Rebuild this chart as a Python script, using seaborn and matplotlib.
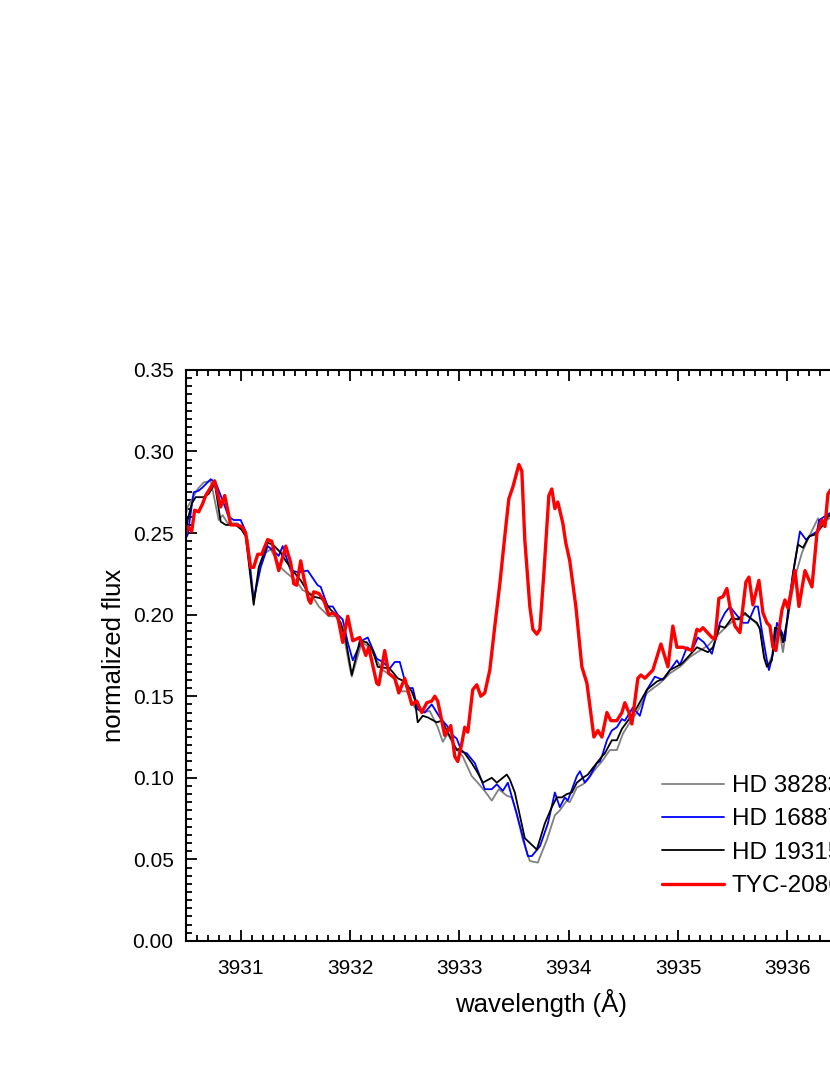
import matplotlib
matplotlib.use('Agg')
import matplotlib.pyplot as plt
import seaborn as sns
from matplotlib.ticker import MultipleLocator, FormatStrFormatter

sns.set_style('ticks')
plt.rcParams['font.family'] = ['Liberation Sans', 'DejaVu Sans']
plt.rcParams.update({'text.color': 'black', 'axes.labelcolor': 'black',
                     'xtick.color': 'black', 'ytick.color': 'black',
                     'axes.edgecolor': 'black'})

# HD 38283 (grey)
gray_wl = [3930.500, 3930.515, 3930.607, 3930.661, 3930.726, 3930.799, 3930.835, 3930.881, 3930.973, 3931.018,
           3931.064, 3931.119, 3931.174, 3931.229, 3931.274, 3931.366, 3931.412, 3931.503, 3931.567, 3931.640,
           3931.714, 3931.805, 3931.869, 3931.933, 3931.990, 3932.016, 3932.107, 3932.180, 3932.244, 3932.299,
           3932.391, 3932.473, 3932.519, 3932.592, 3932.665, 3932.729, 3932.802, 3932.848, 3932.894, 3932.958,
           3933.031, 3933.113, 3933.168, 3933.242, 3933.296, 3933.360, 3933.434, 3933.479, 3933.525, 3933.580,
           3933.644, 3933.717, 3933.800, 3933.873, 3933.918, 3933.982, 3934.009, 3934.074, 3934.129, 3934.175,
           3934.239, 3934.303, 3934.376, 3934.440, 3934.495, 3934.559, 3934.623, 3934.715, 3934.834, 3934.925,
           3935.016, 3935.108, 3935.199, 3935.273, 3935.355, 3935.446, 3935.520, 3935.611, 3935.684, 3935.748,
           3935.794, 3935.822, 3935.867, 3935.904, 3935.931, 3935.959, 3936.005, 3936.069, 3936.133, 3936.206,
           3936.279, 3936.315, 3936.361, 3936.450, 3936.600]
gray_flux = [0.262, 0.266, 0.277, 0.281, 0.282, 0.258, 0.261, 0.256, 0.256, 0.252,
             0.246, 0.209, 0.229, 0.238, 0.240, 0.229, 0.226, 0.221, 0.215, 0.213,
             0.205, 0.199, 0.199, 0.191, 0.170, 0.162, 0.183, 0.180, 0.172, 0.166,
             0.162, 0.153, 0.153, 0.143, 0.140, 0.141, 0.131, 0.122, 0.127, 0.119,
             0.113, 0.101, 0.097, 0.091, 0.086, 0.093, 0.089, 0.088, 0.078, 0.062,
             0.049, 0.048, 0.062, 0.077, 0.080, 0.086, 0.085, 0.094, 0.096, 0.099,
             0.105, 0.110, 0.117, 0.117, 0.127, 0.134, 0.140, 0.152, 0.158, 0.164,
             0.168, 0.174, 0.178, 0.181, 0.187, 0.193, 0.197, 0.200, 0.197, 0.192,
             0.172, 0.169, 0.176, 0.191, 0.188, 0.177, 0.199, 0.223, 0.238, 0.249,
             0.259, 0.254, 0.258, 0.262, 0.270]

# HD 168871 (blue)
blue_wl = [3930.500, 3930.515, 3930.570, 3930.616, 3930.652, 3930.726, 3930.771, 3930.835, 3930.890, 3930.936,
           3931.000, 3931.046, 3931.119, 3931.183, 3931.247, 3931.302, 3931.348, 3931.384, 3931.457, 3931.531,
           3931.613, 3931.704, 3931.732, 3931.796, 3931.842, 3931.887, 3931.933, 3931.979, 3932.025, 3932.107,
           3932.162, 3932.244, 3932.299, 3932.363, 3932.409, 3932.455, 3932.519, 3932.574, 3932.619, 3932.683,
           3932.747, 3932.821, 3932.885, 3932.940, 3932.976, 3933.022, 3933.068, 3933.141, 3933.205, 3933.232,
           3933.296, 3933.342, 3933.397, 3933.443, 3933.507, 3933.571, 3933.626, 3933.662, 3933.736, 3933.809,
           3933.873, 3933.918, 3933.964, 3933.991, 3934.074, 3934.102, 3934.147, 3934.193, 3934.257, 3934.285,
           3934.312, 3934.349, 3934.394, 3934.440, 3934.486, 3934.513, 3934.586, 3934.650, 3934.715, 3934.788,
           3934.861, 3934.925, 3934.989, 3935.016, 3935.081, 3935.126, 3935.181, 3935.236, 3935.309, 3935.382,
           3935.428, 3935.474, 3935.520, 3935.593, 3935.639, 3935.703, 3935.730, 3935.776, 3935.812, 3935.831,
           3935.867, 3935.904, 3935.950, 3935.977, 3936.005, 3936.050, 3936.114, 3936.169, 3936.224, 3936.270,
           3936.289, 3936.361, 3936.450, 3936.600]
blue_flux = [0.247, 0.249, 0.275, 0.276, 0.278, 0.283, 0.281, 0.270, 0.260, 0.258,
             0.258, 0.251, 0.209, 0.229, 0.242, 0.239, 0.236, 0.242, 0.227, 0.226,
             0.227, 0.218, 0.217, 0.205, 0.205, 0.200, 0.197, 0.183, 0.172, 0.184,
             0.186, 0.173, 0.171, 0.167, 0.171, 0.171, 0.155, 0.155, 0.142, 0.140,
             0.145, 0.137, 0.132, 0.126, 0.124, 0.116, 0.115, 0.109, 0.098, 0.093,
             0.093, 0.096, 0.092, 0.097, 0.082, 0.066, 0.052, 0.052, 0.058, 0.072,
             0.091, 0.082, 0.088, 0.086, 0.101, 0.104, 0.097, 0.101, 0.109, 0.110,
             0.115, 0.123, 0.129, 0.131, 0.136, 0.135, 0.143, 0.138, 0.154, 0.162,
             0.160, 0.166, 0.172, 0.169, 0.180, 0.178, 0.186, 0.183, 0.176, 0.195,
             0.201, 0.205, 0.201, 0.195, 0.195, 0.205, 0.205, 0.186, 0.172, 0.166,
             0.176, 0.195, 0.189, 0.184, 0.203, 0.225, 0.251, 0.246, 0.249, 0.251,
             0.258, 0.261, 0.265, 0.272]

# HD 193155 (black)
black_wl = [3930.500, 3930.515, 3930.552, 3930.588, 3930.661, 3930.707, 3930.744, 3930.762, 3930.817, 3930.863,
            3930.954, 3931.009, 3931.046, 3931.119, 3931.165, 3931.247, 3931.293, 3931.366, 3931.412, 3931.476,
            3931.549, 3931.622, 3931.668, 3931.732, 3931.778, 3931.823, 3931.869, 3931.915, 3931.960, 3932.016,
            3932.089, 3932.153, 3932.208, 3932.253, 3932.363, 3932.436, 3932.500, 3932.564, 3932.592, 3932.619,
            3932.665, 3932.711, 3932.793, 3932.839, 3932.885, 3932.930, 3932.976, 3933.004, 3933.049, 3933.113,
            3933.168, 3933.214, 3933.296, 3933.342, 3933.397, 3933.434, 3933.461, 3933.507, 3933.598, 3933.708,
            3933.781, 3933.845, 3933.891, 3933.937, 3933.982, 3934.028, 3934.074, 3934.129, 3934.175, 3934.220,
            3934.303, 3934.330, 3934.394, 3934.440, 3934.486, 3934.541, 3934.623, 3934.715, 3934.806, 3934.870,
            3934.925, 3935.035, 3935.090, 3935.172, 3935.273, 3935.318, 3935.382, 3935.428, 3935.492, 3935.547,
            3935.611, 3935.675, 3935.721, 3935.748, 3935.785, 3935.812, 3935.858, 3935.885, 3935.931, 3935.959,
            3936.005, 3936.050, 3936.096, 3936.142, 3936.197, 3936.251, 3936.315, 3936.370, 3936.450, 3936.600]
black_flux = [0.252, 0.258, 0.268, 0.272, 0.272, 0.274, 0.278, 0.281, 0.257, 0.255,
              0.255, 0.252, 0.248, 0.206, 0.229, 0.244, 0.243, 0.238, 0.233, 0.227,
              0.221, 0.213, 0.211, 0.210, 0.207, 0.203, 0.200, 0.195, 0.185, 0.163,
              0.184, 0.183, 0.178, 0.168, 0.167, 0.161, 0.159, 0.153, 0.148, 0.134,
              0.138, 0.137, 0.134, 0.135, 0.129, 0.123, 0.117, 0.118, 0.115, 0.109,
              0.103, 0.097, 0.100, 0.097, 0.100, 0.102, 0.099, 0.091, 0.063, 0.056,
              0.072, 0.082, 0.088, 0.088, 0.090, 0.091, 0.097, 0.100, 0.102, 0.106,
              0.113, 0.115, 0.123, 0.123, 0.130, 0.135, 0.143, 0.154, 0.159, 0.161,
              0.166, 0.170, 0.174, 0.180, 0.177, 0.180, 0.193, 0.192, 0.198, 0.197,
              0.201, 0.197, 0.195, 0.191, 0.174, 0.168, 0.172, 0.192, 0.191, 0.183,
              0.199, 0.225, 0.243, 0.241, 0.248, 0.249, 0.254, 0.260, 0.264, 0.271]

# TYC-2086 (red)
red_wl = [3930.500, 3930.515, 3930.552, 3930.579, 3930.616, 3930.652, 3930.680, 3930.716, 3930.762, 3930.817,
          3930.854, 3930.909, 3930.954, 3931.009, 3931.046, 3931.091, 3931.119, 3931.156, 3931.192, 3931.247,
          3931.284, 3931.311, 3931.348, 3931.412, 3931.457, 3931.485, 3931.512, 3931.549, 3931.576, 3931.622,
          3931.640, 3931.668, 3931.714, 3931.759, 3931.805, 3931.842, 3931.887, 3931.933, 3931.979, 3932.025,
          3932.089, 3932.144, 3932.171, 3932.244, 3932.263, 3932.317, 3932.354, 3932.409, 3932.446, 3932.500,
          3932.564, 3932.610, 3932.656, 3932.702, 3932.747, 3932.775, 3932.802, 3932.866, 3932.921, 3932.958,
          3932.985, 3933.022, 3933.049, 3933.077, 3933.122, 3933.159, 3933.196, 3933.232, 3933.278, 3933.324,
          3933.370, 3933.415, 3933.452, 3933.488, 3933.544, 3933.571, 3933.598, 3933.644, 3933.672, 3933.708,
          3933.736, 3933.772, 3933.818, 3933.845, 3933.873, 3933.900, 3933.946, 3933.973, 3934.009, 3934.065,
          3934.120, 3934.166, 3934.230, 3934.266, 3934.303, 3934.349, 3934.385, 3934.440, 3934.486, 3934.513,
          3934.550, 3934.577, 3934.632, 3934.660, 3934.696, 3934.769, 3934.843, 3934.907, 3934.952, 3934.989,
          3935.044, 3935.126, 3935.172, 3935.199, 3935.227, 3935.309, 3935.337, 3935.373, 3935.410, 3935.446,
          3935.474, 3935.520, 3935.565, 3935.620, 3935.648, 3935.684, 3935.739, 3935.776, 3935.812, 3935.840,
          3935.867, 3935.894, 3935.950, 3935.977, 3936.005, 3936.069, 3936.105, 3936.160, 3936.224, 3936.270,
          3936.315, 3936.343, 3936.370, 3936.450, 3936.600]
red_flux = [0.250, 0.254, 0.251, 0.264, 0.263, 0.268, 0.273, 0.277, 0.282, 0.266,
            0.273, 0.255, 0.255, 0.254, 0.250, 0.229, 0.229, 0.237, 0.237, 0.246,
            0.245, 0.237, 0.227, 0.242, 0.232, 0.219, 0.218, 0.233, 0.223, 0.209,
            0.207, 0.214, 0.213, 0.209, 0.200, 0.201, 0.199, 0.183, 0.199, 0.184,
            0.186, 0.175, 0.180, 0.158, 0.157, 0.178, 0.164, 0.161, 0.152, 0.161,
            0.145, 0.147, 0.140, 0.146, 0.147, 0.150, 0.147, 0.126, 0.132, 0.113,
            0.110, 0.121, 0.131, 0.128, 0.154, 0.157, 0.150, 0.152, 0.166, 0.193,
            0.219, 0.248, 0.271, 0.278, 0.292, 0.288, 0.246, 0.205, 0.191, 0.188,
            0.191, 0.225, 0.273, 0.277, 0.265, 0.269, 0.256, 0.244, 0.233, 0.205,
            0.168, 0.158, 0.125, 0.129, 0.125, 0.140, 0.135, 0.135, 0.140, 0.146,
            0.140, 0.133, 0.161, 0.163, 0.161, 0.166, 0.182, 0.168, 0.193, 0.180,
            0.180, 0.178, 0.191, 0.190, 0.192, 0.186, 0.185, 0.210, 0.211, 0.216,
            0.205, 0.193, 0.189, 0.220, 0.223, 0.206, 0.221, 0.201, 0.195, 0.193,
            0.180, 0.178, 0.203, 0.209, 0.204, 0.227, 0.205, 0.227, 0.217, 0.250,
            0.258, 0.254, 0.274, 0.282, 0.290]

names = ['HD 38283', 'HD 168871', 'HD 193155', 'TYC-2086-1204-1']
colors = ['#808080', '#0000ff', '#000000', '#ff0000']
widths = [1.3, 1.3, 1.3, 2.4]

fig = plt.figure(figsize=(8.3, 10.75), dpi=100)
ax = fig.add_axes([0.2241, 0.1247, 0.8564, 0.5312])

all_wl = [gray_wl, blue_wl, black_wl, red_wl]
all_flux = [gray_flux, blue_flux, black_flux, red_flux]
for wl, fl, name, col, lw in zip(all_wl, all_flux, names, colors, widths):
    sns.lineplot(x=wl, y=fl, ax=ax, color=col, linewidth=lw, label=name,
                 estimator=None, sort=False)

ax.set_xlim(3930.5, 3937.0)
ax.set_ylim(0, 0.35)
ax.xaxis.set_major_locator(MultipleLocator(1))
ax.xaxis.set_minor_locator(MultipleLocator(0.1))
ax.yaxis.set_major_locator(MultipleLocator(0.05))
ax.yaxis.set_minor_locator(MultipleLocator(0.005))
ax.yaxis.set_major_formatter(FormatStrFormatter('%.2f'))
ax.xaxis.set_major_formatter(FormatStrFormatter('%d'))
ax.tick_params(which='both', direction='in', top=True, right=True, width=1.3, labelsize=15)
ax.tick_params(which='major', length=8)
ax.tick_params(which='minor', length=4)
ax.tick_params(axis='x', pad=13)
ax.tick_params(axis='y', pad=9)
for s in ax.spines.values():
    s.set_linewidth(1.5)

ax.set_xlabel('wavelength (Å)', fontsize=18.5, labelpad=8)
ax.set_ylabel('normalized flux', fontsize=18.5, labelpad=5)

ax.legend(loc='upper left', bbox_to_anchor=(662 / 830, 1 - 775 / 1075),
          bbox_transform=fig.transFigure, frameon=False, fontsize=17.5,
          handlelength=2.54, handletextpad=0.33, labelspacing=0.47,
          borderpad=0, borderaxespad=0)

fig.savefig('out.png', dpi=100)
